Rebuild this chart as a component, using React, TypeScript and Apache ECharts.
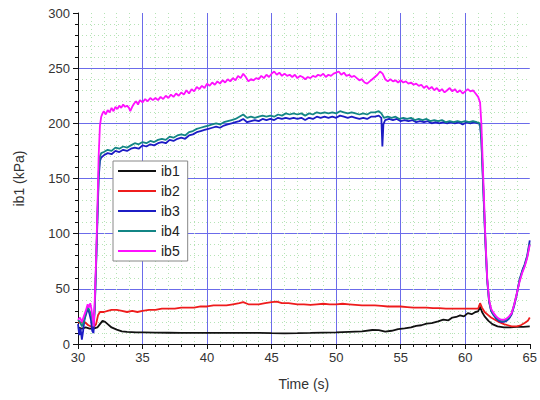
import React, { useEffect, useRef } from "react";
import * as echarts from "echarts";

const seriesNames = ["ib1", "ib2", "ib3", "ib4", "ib5"];
const seriesColors = ["#111111", "#ee1c1c", "#1c1cc4", "#138585", "#ff10ff"];

const ib1Data = [
  [30.0, 15], [30.3, 14], [30.6, 15], [30.9, 14], [31.2, 14], [31.5, 15], [31.7, 18], [31.9, 21], [32.1, 20],
  [32.3, 18], [32.6, 15], [33.0, 13], [33.4, 11.5], [33.8, 11], [34.5, 10.5], [35, 10.5], [36, 10.3], [37, 10.2],
  [38, 10], [39, 10], [40, 10], [41, 10], [42, 10], [43, 10], [44, 10], [45, 9.8], [46, 9.7], [47, 9.8], [48, 10],
  [49, 10.3], [50, 10.5], [51, 11], [52, 11.5], [52.8, 12.7], [53.3, 12.5], [53.8, 11.2], [54.3, 12], [54.8, 13.5],
  [55.3, 14.2], [55.8, 15], [56.2, 16.5], [56.6, 17], [57.0, 18.5], [57.4, 19], [57.9, 20.5], [58.3, 22],
  [58.7, 21.5], [59.0, 24], [59.3, 24.5], [59.6, 26], [59.9, 25], [60.2, 28], [60.5, 27], [60.8, 29], [61.0, 29.5],
  [61.15, 34], [61.3, 29], [61.5, 25], [61.8, 21], [62.1, 18], [62.5, 16], [63.0, 15], [63.5, 15], [64.0, 15.5],
  [64.5, 15.5], [65.0, 16],
];

const ib2Data = [
  [30.0, 20], [30.2, 19], [30.4, 21], [30.6, 19], [30.8, 17], [31.0, 16], [31.2, 15], [31.4, 18], [31.55, 26],
  [31.7, 29], [32.0, 29], [32.3, 30], [32.6, 31], [33.0, 31], [33.4, 30], [33.8, 29], [34.2, 30], [34.6, 29],
  [35.0, 30], [35.5, 31], [36.0, 31], [36.5, 32], [37.0, 32], [37.5, 32], [38.0, 33], [38.5, 33], [39.0, 33],
  [39.5, 34], [40.0, 34], [40.5, 35], [41.0, 35], [41.5, 35], [42.0, 36], [42.5, 37], [42.8, 38], [43.2, 36],
  [43.6, 36], [44.0, 36], [44.5, 37], [45.0, 38], [45.4, 38.5], [45.8, 37], [46.3, 37], [47.0, 36], [47.5, 36],
  [48.0, 35.5], [48.5, 36], [49.0, 36.5], [49.5, 36], [50.0, 36], [50.5, 36.5], [51.0, 36], [51.5, 35.5],
  [52.0, 35], [52.5, 35], [53.0, 35], [53.5, 34.5], [54.0, 34], [54.5, 34], [55.0, 34], [55.5, 33.5], [56.0, 33],
  [56.5, 33], [57.0, 33], [57.5, 32.5], [58.0, 32.5], [58.5, 32], [59.0, 32], [59.5, 32], [60.0, 32], [60.5, 32],
  [61.0, 32], [61.15, 37], [61.3, 33], [61.5, 29], [61.8, 26], [62.0, 24], [62.3, 22], [62.6, 20], [63.0, 18],
  [63.3, 17], [63.6, 16], [64.0, 16], [64.3, 17], [64.6, 19], [64.85, 21], [65.0, 24],
];

const ib3Data = [
  [30.0, 18], [30.1, 8], [30.2, 14], [30.3, 4], [30.4, 12], [30.5, 22], [30.6, 26], [30.7, 30], [30.8, 31],
  [30.9, 27], [31.0, 22], [31.1, 12], [31.2, 10], [31.3, 32], [31.4, 70], [31.5, 110], [31.6, 150], [31.7, 166],
  [31.8, 169], [32.0, 171], [32.3, 173], [32.6, 172], [32.9, 175], [33.2, 174], [33.5, 176], [33.8, 175],
  [34.1, 177], [34.4, 178], [34.7, 177], [35.0, 180], [35.3, 179], [35.6, 181], [35.9, 180], [36.2, 182],
  [36.5, 183], [36.8, 182], [37.1, 185], [37.4, 184], [37.7, 186], [38.0, 187], [38.3, 186], [38.6, 189],
  [38.9, 190], [39.2, 192], [39.5, 193], [39.8, 194], [40.1, 195], [40.4, 196], [40.7, 197], [41.0, 196],
  [41.3, 198], [41.6, 199], [41.9, 200], [42.2, 201], [42.5, 202], [42.8, 204], [43.1, 201], [43.4, 202],
  [43.7, 203], [44.0, 202], [44.3, 204], [44.6, 203], [44.9, 204], [45.2, 203], [45.5, 205], [45.8, 204],
  [46.1, 205], [46.4, 204], [46.7, 205], [47.0, 204], [47.3, 205], [47.6, 203], [47.9, 205], [48.2, 204],
  [48.5, 206], [48.8, 205], [49.1, 206], [49.4, 205], [49.7, 206], [50.0, 205], [50.3, 207], [50.6, 206],
  [50.9, 205], [51.2, 206], [51.5, 205], [51.8, 204], [52.1, 205], [52.4, 204], [52.7, 206], [53.0, 206],
  [53.3, 207], [53.5, 205], [53.58, 179], [53.66, 199], [53.8, 203], [54.1, 204], [54.4, 203], [54.7, 204],
  [55.0, 202], [55.3, 203], [55.6, 202], [55.9, 203], [56.2, 201], [56.5, 202], [56.8, 201], [57.1, 202],
  [57.4, 200], [57.7, 201], [58.0, 200], [58.3, 201], [58.6, 200], [58.9, 201], [59.2, 200], [59.5, 201],
  [59.8, 199], [60.1, 201], [60.4, 200], [60.7, 201], [61.0, 200], [61.15, 199], [61.25, 185], [61.4, 140],
  [61.55, 95], [61.7, 58], [61.85, 38], [62.0, 30], [62.2, 26], [62.4, 23], [62.6, 21], [62.8, 20], [63.0, 20],
  [63.2, 21], [63.4, 23], [63.6, 27], [63.8, 35], [64.0, 45], [64.2, 58], [64.4, 66], [64.6, 72], [64.8, 80],
  [65.0, 94],
];

const ib4Data = [
  [30.0, 22], [30.15, 20], [30.3, 16], [30.45, 20], [30.6, 28], [30.75, 34], [30.9, 30], [31.05, 25], [31.2, 16],
  [31.3, 35], [31.4, 72], [31.5, 115], [31.6, 155], [31.7, 170], [31.8, 173], [32.0, 174], [32.3, 176],
  [32.6, 175], [32.9, 178], [33.2, 177], [33.5, 179], [33.8, 178], [34.1, 180], [34.4, 182], [34.7, 181],
  [35.0, 183], [35.3, 182], [35.6, 184], [35.9, 183], [36.2, 185], [36.5, 186], [36.8, 185], [37.1, 188],
  [37.4, 187], [37.7, 189], [38.0, 190], [38.3, 189], [38.6, 192], [38.9, 193], [39.2, 195], [39.5, 196],
  [39.8, 197], [40.1, 198], [40.4, 199], [40.7, 200], [41.0, 199], [41.3, 201], [41.6, 202], [41.9, 203],
  [42.2, 204], [42.5, 206], [42.8, 208], [43.1, 205], [43.4, 206], [43.7, 205], [44.0, 206], [44.3, 207],
  [44.6, 206], [44.9, 207], [45.2, 206], [45.5, 208], [45.8, 207], [46.1, 209], [46.4, 208], [46.7, 209],
  [47.0, 208], [47.3, 209], [47.6, 207], [47.9, 209], [48.2, 208], [48.5, 210], [48.8, 209], [49.1, 210],
  [49.4, 209], [49.7, 210], [50.0, 209], [50.3, 211], [50.6, 210], [50.9, 209], [51.2, 210], [51.5, 209],
  [51.8, 208], [52.1, 209], [52.4, 208], [52.7, 210], [53.0, 210], [53.3, 211], [53.5, 209], [53.7, 205],
  [54.0, 206], [54.3, 205], [54.6, 206], [54.9, 204], [55.2, 205], [55.5, 204], [55.8, 205], [56.1, 203],
  [56.4, 204], [56.7, 203], [57.0, 204], [57.3, 202], [57.6, 203], [57.9, 202], [58.2, 203], [58.5, 201],
  [58.8, 202], [59.1, 201], [59.4, 202], [59.7, 201], [60.0, 202], [60.3, 201], [60.6, 202], [60.9, 201],
  [61.15, 200], [61.25, 186], [61.4, 142], [61.55, 97], [61.7, 59], [61.85, 39], [62.0, 31], [62.2, 27],
  [62.4, 24], [62.6, 22], [62.8, 21], [63.0, 21], [63.2, 22], [63.4, 24], [63.6, 28], [63.8, 36], [64.0, 46],
  [64.2, 57], [64.4, 65], [64.6, 71], [64.8, 79], [65.0, 91],
];

const ib5Data = [
  [30.0, 22], [30.15, 24], [30.3, 20], [30.45, 25], [30.6, 30], [30.75, 36], [30.85, 33], [30.95, 37], [31.05, 31],
  [31.15, 22], [31.22, 16], [31.3, 40], [31.4, 76], [31.5, 120], [31.6, 170], [31.7, 198], [31.8, 206], [31.9, 209],
  [32.0, 211], [32.15, 208], [32.3, 212], [32.45, 210], [32.6, 214], [32.75, 211], [32.9, 215], [33.05, 213],
  [33.2, 216], [33.35, 214], [33.5, 217], [33.65, 215], [33.8, 216], [33.95, 214], [34.05, 211], [34.2, 215],
  [34.35, 218], [34.5, 220], [34.65, 217], [34.8, 221], [35.0, 219], [35.2, 222], [35.4, 220], [35.6, 223],
  [35.8, 221], [36.0, 223], [36.2, 221], [36.4, 224], [36.6, 222], [36.8, 225], [37.0, 223], [37.2, 226],
  [37.4, 224], [37.6, 227], [37.8, 225], [38.0, 228], [38.2, 226], [38.4, 230], [38.6, 227], [38.8, 231],
  [39.0, 229], [39.2, 233], [39.4, 231], [39.6, 234], [39.8, 232], [40.0, 236], [40.2, 234], [40.4, 237],
  [40.6, 235], [40.8, 238], [41.0, 236], [41.2, 239], [41.4, 237], [41.6, 240], [41.8, 238], [42.0, 241],
  [42.2, 239], [42.4, 243], [42.6, 241], [42.8, 245], [43.0, 242], [43.2, 238], [43.4, 240], [43.6, 239],
  [43.8, 241], [44.0, 240], [44.2, 243], [44.4, 241], [44.6, 244], [44.8, 242], [45.0, 245], [45.2, 247],
  [45.4, 244], [45.6, 246], [45.8, 243], [46.0, 245], [46.2, 243], [46.4, 244], [46.6, 242], [46.8, 244],
  [47.0, 241], [47.2, 243], [47.4, 242], [47.6, 240], [47.8, 242], [48.0, 241], [48.2, 243], [48.4, 242],
  [48.6, 244], [48.8, 243], [49.0, 245], [49.2, 242], [49.4, 244], [49.6, 243], [49.8, 245], [50.0, 246],
  [50.2, 247], [50.4, 244], [50.6, 246], [50.8, 243], [51.0, 244], [51.2, 242], [51.4, 243], [51.6, 241],
  [51.8, 239], [52.0, 240], [52.2, 237], [52.4, 236], [52.6, 238], [52.8, 240], [53.0, 242], [53.2, 244],
  [53.4, 247], [53.6, 245], [53.8, 240], [54.0, 238], [54.2, 240], [54.4, 238], [54.6, 239], [54.8, 237],
  [55.0, 239], [55.2, 237], [55.4, 238], [55.6, 236], [55.8, 237], [56.0, 235], [56.2, 236], [56.4, 234],
  [56.6, 235], [56.8, 232], [57.0, 234], [57.2, 231], [57.4, 233], [57.6, 230], [57.8, 232], [58.0, 229],
  [58.2, 231], [58.4, 228], [58.6, 230], [58.8, 232], [59.0, 229], [59.2, 231], [59.4, 228], [59.6, 230],
  [59.8, 227], [60.0, 229], [60.2, 231], [60.4, 229], [60.6, 230], [60.8, 227], [61.0, 224], [61.15, 219],
  [61.25, 200], [61.4, 150], [61.55, 100], [61.7, 60], [61.85, 40], [62.0, 32], [62.2, 28], [62.4, 25],
  [62.6, 23], [62.8, 22], [63.0, 22], [63.2, 23], [63.4, 25], [63.6, 28], [63.8, 36], [64.0, 46], [64.2, 56],
  [64.4, 64], [64.6, 70], [64.8, 78], [65.0, 90],
];

const allData = [ib1Data, ib2Data, ib3Data, ib4Data, ib5Data];

const xMin = 30;
const xMax = 65;
const xStep = 5;
const yMin = 0;
const yMax = 300;
const yStep = 50;

export default function App() {
  const ref = useRef<HTMLDivElement>(null);
  useEffect(() => {
    if (!ref.current) return;
    const chart = echarts.init(ref.current, null, { renderer: "svg" });
    const font = "Liberation Sans, Arial, sans-serif";
    const axisCommon = {
      axisLine: { show: true, lineStyle: { color: "#111", width: 1 } },
      axisTick: { show: true, length: 5, lineStyle: { color: "#111" } },
      minorTick: { show: true, splitNumber: 5, length: 3, lineStyle: { color: "#111" } },
      axisLabel: { color: "#333", fontSize: 13, fontFamily: font },
      splitLine: {
        show: true,
        showMinLine: false,
        showMaxLine: false,
        lineStyle: { color: "#6b6bea", width: 1 },
      },
      minorSplitLine: {
        show: true,
        lineStyle: { color: "#b5e3b5", width: 1, type: [1, 3] },
      },
      nameTextStyle: { color: "#333", fontSize: 14, fontFamily: font },
    };
    chart.setOption({
      animation: false,
      backgroundColor: "#fff",
      grid: { left: 78, right: 8, top: 13, bottom: 56 },
      xAxis: {
        type: "value",
        min: xMin,
        max: xMax,
        interval: xStep,
        name: "Time (s)",
        nameLocation: "middle",
        nameGap: 33,
        ...axisCommon,
        axisLabel: { ...axisCommon.axisLabel, margin: 7 },
      },
      yAxis: {
        type: "value",
        min: yMin,
        max: yMax,
        interval: yStep,
        name: "ib1 (kPa)",
        nameLocation: "middle",
        nameGap: 52,
        ...axisCommon,
        axisLabel: { ...axisCommon.axisLabel, margin: 8 },
      },
      legend: {
        orient: "vertical",
        left: 113,
        top: 161,
        itemWidth: 38,
        itemHeight: 14,
        itemGap: 6,
        itemStyle: { opacity: 0 },
        backgroundColor: "#fff",
        borderColor: "#888",
        borderWidth: 1,
        padding: [3, 8, 3, 4],
        textStyle: { color: "#222", fontSize: 14, fontFamily: font },
        data: seriesNames,
      },
      series: seriesNames.map((name, i) => ({
        name,
        type: "line",
        data: allData[i],
        symbol: "none",
        showSymbol: false,
        color: seriesColors[i],
        lineStyle: { color: seriesColors[i], width: 1.8 },
        z: 2 + i,
      })),
    });
    return () => chart.dispose();
  }, []);
  return (
    <div
      ref={ref}
      style={{ position: "fixed", left: 0, top: 0, width: 540, height: 400 }}
    />
  );
}
